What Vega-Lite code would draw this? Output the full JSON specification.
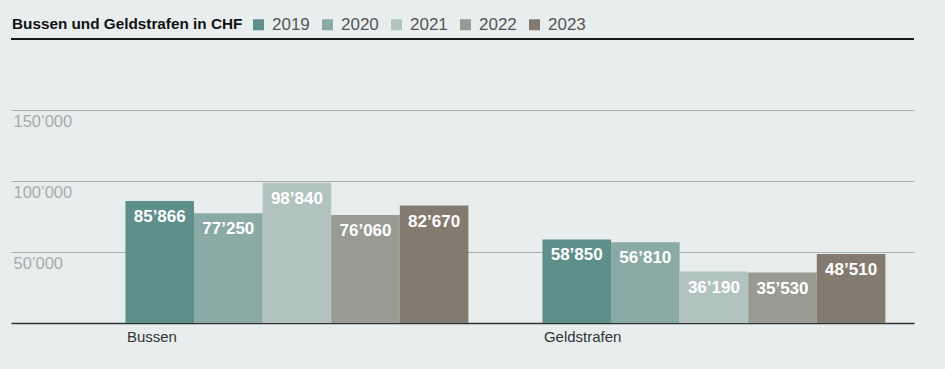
{
  "$schema": "https://vega.github.io/schema/vega-lite/v6.json",
  "width": 903,
  "height": 284,
  "autosize": {"type": "none"},
  "padding": {"left": 11, "top": 39, "right": 31, "bottom": 46},
  "background": "#e8eeee",
  "data": {
    "values": [
      {"kategorie": "Bussen", "jahr": "2019", "betrag": 85866},
      {"kategorie": "Bussen", "jahr": "2020", "betrag": 77250},
      {"kategorie": "Bussen", "jahr": "2021", "betrag": 98840},
      {"kategorie": "Bussen", "jahr": "2022", "betrag": 76060},
      {"kategorie": "Bussen", "jahr": "2023", "betrag": 82670},
      {"kategorie": "Geldstrafen", "jahr": "2019", "betrag": 58850},
      {"kategorie": "Geldstrafen", "jahr": "2020", "betrag": 56810},
      {"kategorie": "Geldstrafen", "jahr": "2021", "betrag": 36190},
      {"kategorie": "Geldstrafen", "jahr": "2022", "betrag": 35530},
      {"kategorie": "Geldstrafen", "jahr": "2023", "betrag": 48510}
    ]
  },
  "encoding": {
    "x": {
      "field": "kategorie",
      "type": "nominal",
      "sort": ["Bussen", "Geldstrafen"],
      "scale": {"paddingInner": 0.1775, "paddingOuter": 0.1715, "align": 0.8},
      "axis": {
        "title": null,
        "orient": "bottom",
        "labelAlign": "left",
        "labelBaseline": "top",
        "labelAngle": 0,
        "labelPadding": 6,
        "labelFontSize": 15,
        "labelColor": "#333333",
        "labelFont": "Liberation Sans",
        "labelOffset": -170,
        "ticks": false,
        "domain": true,
        "domainColor": "#333333",
        "domainWidth": 1.5,
        "grid": false
      }
    },
    "xOffset": {
      "field": "jahr",
      "type": "nominal",
      "scale": {"paddingInner": 0, "paddingOuter": 0}
    },
    "y": {
      "field": "betrag",
      "type": "quantitative",
      "scale": {"domain": [0, 200000], "nice": false},
      "axis": {
        "title": null,
        "values": [50000, 100000, 150000],
        "format": ",d",
        "grid": true,
        "gridColor": "#a8adac",
        "gridWidth": 1,
        "domain": false,
        "ticks": false,
        "tickSize": 0,
        "labelAlign": "left",
        "labelBaseline": "top",
        "labelPadding": -2,
        "labelOffset": 3,
        "labelFontSize": 16.5,
        "labelColor": "#aaaaaa",
        "labelFont": "Liberation Sans"
      }
    }
  },
  "layer": [
    {
      "mark": {"type": "bar"},
      "encoding": {
        "color": {
          "field": "jahr",
          "type": "nominal",
          "scale": {
            "domain": ["2019", "2020", "2021", "2022", "2023"],
            "range": ["#5e8f8b", "#8aaaa5", "#b2c3bf", "#999b92", "#847b70"]
          },
          "legend": {
            "title": "Bussen und Geldstrafen in CHF",
            "titleOrient": "left",
            "titleFontSize": 15.3,
            "titleFontWeight": "bold",
            "titleColor": "#111111",
            "titleFont": "Liberation Sans",
            "titlePadding": 7,
            "titleLimit": 400,
            "titleBaseline": "middle",
            "orient": "none",
            "direction": "horizontal",
            "legendX": 1,
            "legendY": -23,
            "symbolType": "square",
            "symbolSize": 121,
            "symbolStrokeWidth": 0,
            "symbolOpacity": 1,
            "labelFontSize": 17,
            "labelColor": "#555555",
            "labelFont": "Liberation Sans",
            "labelOffset": 5,
            "columnPadding": 9
          }
        }
      }
    },
    {
      "mark": {
        "type": "text",
        "baseline": "top",
        "dy": 8,
        "color": "#ffffff",
        "fontWeight": "bold",
        "fontSize": 17,
        "font": "Liberation Sans"
      },
      "encoding": {
        "text": {"field": "betrag", "type": "quantitative", "format": ",d"}
      }
    },
    {
      "mark": {"type": "rule", "color": "#1a1a1a", "strokeWidth": 1.5},
      "encoding": {"y": {"datum": 200000}, "x": null, "xOffset": null}
    }
  ],
  "config": {
    "view": {"stroke": null},
    "font": "Liberation Sans",
    "locale": {
      "number": {
        "decimal": ".",
        "thousands": "’",
        "grouping": [3],
        "currency": ["", ""]
      }
    }
  }
}
